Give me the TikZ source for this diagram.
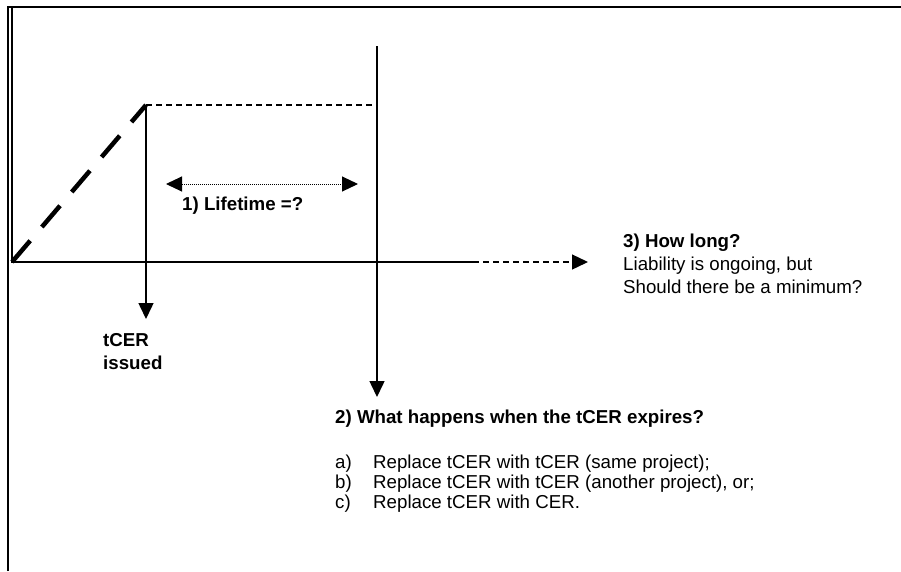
\documentclass[tikz,border=0pt]{standalone}
\usepackage{fontspec}
\setmainfont{Liberation Sans}
\usetikzlibrary{arrows.meta,positioning}

\tikzset{
    txt/.style={inner sep=0pt, anchor=base west, align=left,
        font=\fontsize{18.7}{23}\selectfont},
    boldtxt/.style={txt, font=\fontsize{18.7}{23}\selectfont\bfseries},
    bigtip/.style={-{Triangle[length=16pt,width=15pt]}},
    thin/.style={line width=1.3pt},
}

\begin{document}
\begin{tikzpicture}[x=1pt,y=-1pt]
      \useasboundingbox (0,0) rectangle (901,571);
      % frame
      \draw[line width=2pt] (8,571) -- (8,7) -- (901,7);
      % points on the time line
      \coordinate (origin) at (12,262);
      \coordinate (ytop) at (12,8);
      \coordinate (xsolid) at (473,262);
      \coordinate (xtip) at (588,262);
      \coordinate (issue) at (146,105);
      \coordinate (expire) at (377,105);
      \coordinate (exptop) at (377,46);
      \coordinate (issuetip) at (146,319);
      \coordinate (expiretip) at (377,397);
      \coordinate (lifeL) at (166,184);
      \coordinate (lifeR) at (358,184);
      % axes
      \draw[thin] (ytop) -- (origin) -- (xsolid);
      \draw[thin, dash pattern=on 6pt off 4pt, bigtip] (xsolid) -- (xtip);
      \draw[line width=4.5pt, dash pattern=on 28pt off 18pt] (origin) -- (issue);
      \draw[thin, dash pattern=on 6pt off 4pt] (issue) -- (expire);
      % issue and expiry
      \draw[line width=1.5pt, bigtip] (issue) -- (issuetip);
      \draw[line width=1.5pt, bigtip] (exptop) -- (expiretip);
      \draw[line width=1pt, dash pattern=on 1pt off 1pt,
            {Triangle[length=16pt,width=15pt]}-{Triangle[length=16pt,width=15pt]}] (lifeL) -- (lifeR);
      % labels (base = last line)
      \node[boldtxt] (lifetime) at (182,210) {1) Lifetime =?};
      \node[boldtxt] (issued) at (103,369) {tCER\\issued};
      \node[boldtxt] (expiry) at (335,423) {2) What happens when the tCER expires?};
      \node[txt, font=\fontsize{18.7}{20}\selectfont] (options) at (335,508)
          {\makebox[38pt][l]{a)}Replace tCER with tCER (same project);\\
           \makebox[38pt][l]{b)}Replace tCER with tCER (another project), or;\\
           \makebox[38pt][l]{c)}Replace tCER with CER.};
      \node[txt] (howlong) at (623,293)
          {\textbf{3) How long?}\\Liability is ongoing, but\\Should there be a minimum?};
    \end{tikzpicture}
\end{document}
